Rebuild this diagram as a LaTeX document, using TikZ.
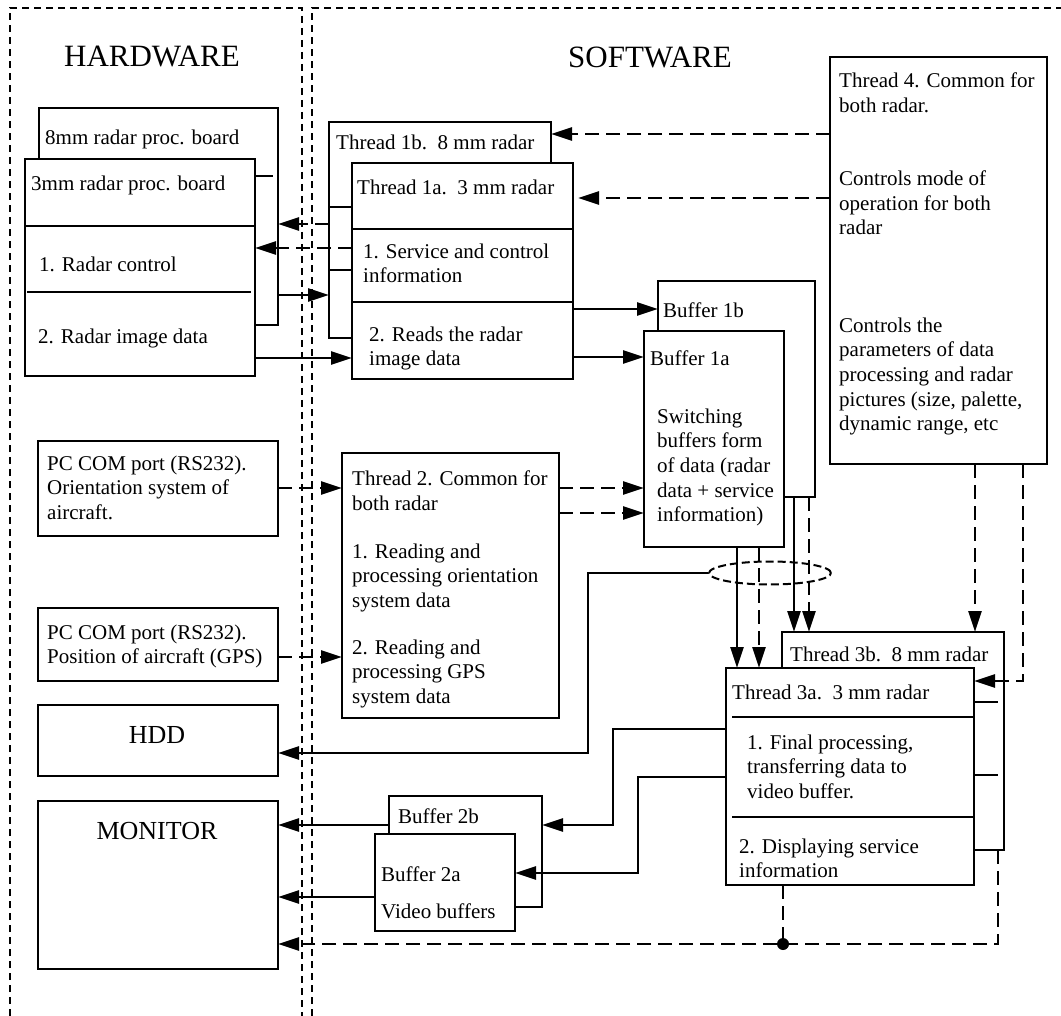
\documentclass[tikz,border=0pt]{standalone}
\usepackage{fontspec}
\setmainfont{Liberation Serif}
\usetikzlibrary{arrows.meta,shapes.geometric}
\newcommand\txtfont{\fontsize{21}{24.6}\selectfont}
\newcommand\headfont{\fontsize{31}{36}\selectfont}
\newcommand\devfont{\fontsize{26}{30}\selectfont}
% box from its top-left (x1,y1) to its bottom-right (x2,y2)
\newcommand\mkbox[5]{\node[bx, minimum width={#4-#2}, minimum height={#5-#3}] (#1) at (#2,#3) {};}
\begin{document}
\begin{tikzpicture}[x=1pt, y=-1pt,
  ln/.style={line width=2.6pt},
  arr/.style={ln, -{Triangle[length=21pt 0 0,width=13pt 0 0]}},
  dpat/.style={dash pattern=on 14pt off 7pt},
  darr/.style={arr, dpat},
  dln/.style={ln, dpat},
  frame/.style={line width=2.2pt, dash pattern=on 7pt off 5pt},
  bx/.style={draw, line width=2.6pt, fill=white, anchor=north west, inner sep=0pt, outer sep=0pt},
  tx/.style={anchor=north west, inner sep=0pt, align=left, font=\txtfont}]
\useasboundingbox (0,0) rectangle (1061,1016);

% hardware / software areas
\draw[frame] (10,1016) -- (10,8) -- (302,8) -- (302,1016);
\draw[frame] (312,1016) -- (312,8) -- (1061,8);
\node[font=\headfont] (hw) at (152,57) {HARDWARE};
\node[font=\headfont] (sw) at (650,57) {SOFTWARE};

% boxes (back boxes of each pair first)
\mkbox{brd8}{39}{108}{278}{325}
\mkbox{brd3}{25}{159}{255}{376}
\mkbox{t1b}{329}{122}{551}{338}
\mkbox{t1a}{352}{163}{573}{379}
\mkbox{b1b}{658}{281}{815}{497}
\mkbox{b1a}{644}{331}{784}{547}
\mkbox{t4}{830}{57}{1047}{464}
\mkbox{ori}{38}{441}{278}{536}
\mkbox{t2}{342}{453}{559}{718}
\mkbox{gps}{38}{608}{278}{681}
\mkbox{hdd}{38}{705}{278}{776}
\mkbox{mon}{38}{801}{278}{969}
\mkbox{b2b}{389}{796}{542}{907}
\mkbox{b2a}{375}{834}{515}{931}
\mkbox{t3b}{782}{632}{1004}{850}
\mkbox{t3a}{726}{668}{974}{885}

% section dividers and stubs of the stacked boxes
\draw[ln] (brd3.west |- 0,226) -- (brd3.east |- 0,226);
\draw[ln] (27,292) -- (251,292);
\draw[ln] (brd3.east |- 0,176) -- (273,176);
\draw[ln] (t1a.west |- 0,229) -- (t1a.east |- 0,229);
\draw[ln] (t1a.west |- 0,302) -- (t1a.east |- 0,302);
\draw[ln] (t1b.west |- 0,207) -- (t1a.west |- 0,207);
\draw[ln] (t1b.west |- 0,270) -- (t1a.west |- 0,270);
\draw[ln] (732,717) -- (t3a.east |- 0,717);
\draw[ln] (732,817) -- (t3a.east |- 0,817);
\draw[ln] (t3a.east |- 0,702) -- (998,702);
\draw[ln] (t3a.east |- 0,775) -- (998,775);

% texts
\node[tx] (tb8) at (45,129.5) {8mm radar proc. board};
\node[tx] (tb3) at (31,175.5) {3mm radar proc. board};
\node[tx] (tb3a) at (39,256.5) {1. Radar control};
\node[tx] (tb3b) at (38,328.5) {2. Radar image data};
\node[tx] (tt1b) at (336,134.5) {Thread 1b.\ \ 8 mm radar};
\node[tx] (tt1a) at (357,179.5) {Thread 1a.\ \ 3 mm radar};
\node[tx] (tt1a1) at (363,243.5) {1. Service and control\\information};
\node[tx] (tt1a2) at (369,326.5) {2. Reads the radar\\image data};
\node[tx] (tbb1b) at (663,302.5) {Buffer 1b};
\node[tx] (tbb1a) at (650,350.5) {Buffer 1a};
\node[tx] (tbsw) at (657,408.5) {Switching\\buffers form\\of data (radar\\data + service\\information)};
\node[tx] (tt4) at (839,72.5) {Thread 4. Common for\\both radar.};
\node[tx] (tt4a) at (839,170.5) {Controls mode of\\operation for both\\radar};
\node[tx] (tt4b) at (839,317.5) {Controls the\\parameters of data\\processing and radar\\pictures (size, palette,\\dynamic range, etc};
\node[tx] (tori) at (47,455.5) {PC COM port (RS232).\\Orientation system of\\aircraft.};
\node[tx] (tt2) at (352,470.5) {Thread 2. Common for\\both radar};
\node[tx] (tt2a) at (352,543.5) {1. Reading and\\processing orientation\\system data};
\node[tx] (tt2b) at (352,639.5) {2. Reading and\\processing GPS\\system data};
\node[tx] (tgps) at (47,624.5) {PC COM port (RS232).\\Position of aircraft (GPS)};
\node[font=\devfont] (thdd) at (157,735) {HDD};
\node[font=\devfont] (tmon) at (157,831) {MONITOR};
\node[tx] (tbb2b) at (398,808.5) {Buffer 2b};
\node[tx] (tbb2a) at (381,866.5) {Buffer 2a};
\node[tx] (tvid) at (381,903.5) {Video buffers};
\node[tx] (tt3b) at (790,646.5) {Thread 3b.\ \ 8 mm radar};
\node[tx] (tt3a) at (732,684.5) {Thread 3a.\ \ 3 mm radar};
\node[tx] (tt3a1) at (747,734.5) {1. Final processing,\\transferring data to\\video buffer.};
\node[tx] (tt3a2) at (739,838.5) {2. Displaying service\\information};

% radar boards <-> thread 1
\draw[darr] (t1b.west |- 0,224) -- (brd8.east |- 0,224);
\draw[darr] (t1a.west |- 0,248) -- (brd3.east |- 0,248);
\draw[arr] (brd8.east |- 0,295) -- (t1b.west |- 0,295);
\draw[arr] (brd3.east |- 0,358) -- (t1a.west |- 0,358);

% thread 1 -> buffers 1
\draw[arr] (t1a.east |- 0,309) -- (b1b.west |- 0,309);
\draw[arr] (t1a.east |- 0,357) -- (b1a.west |- 0,357);

% thread 4 controls
\draw[darr] (t4.west |- 0,134) -- (t1b.east |- 0,134);
\draw[darr, shorten >=5pt] (t4.west |- 0,198) -- (t1a.east |- 0,198);
\draw[darr] (t4.south -| 975,0) -- (t3b.north -| 975,0);
\draw[darr] (t4.south -| 1023,0) |- (t3a.east |- 0,681);

% COM ports -> thread 2 -> buffer 1a
\draw[darr] (ori.east |- 0,488) -- (t2.west |- 0,488);
\draw[darr] (gps.east |- 0,657) -- (t2.west |- 0,657);
\draw[darr] (t2.east |- 0,488) -- (b1a.west |- 0,488);
\draw[darr] (t2.east |- 0,513) -- (b1a.west |- 0,513);

% buffers 1 -> thread 3, grouped to the HDD
\node[ellipse, draw, line width=2pt, dash pattern=on 8pt off 4pt, minimum width=122pt, minimum height=23pt, inner sep=0pt] (grp) at (770,573) {};
\draw[arr] (b1a.south -| 737,0) -- (t3a.north -| 737,0);
\draw[darr] (b1a.south -| 759,0) -- (t3a.north -| 759,0);
\draw[arr] (b1b.south -| 794,0) -- (t3b.north -| 794,0);
\draw[darr] (b1b.south -| 809,0) -- (t3b.north -| 809,0);
\draw[arr] (grp.west) -- (588,573) |- (hdd.east |- 0,753);

% thread 3 -> video buffers
\draw[arr] (t3a.west |- 0,729) -| (613,825) -- (b2b.east |- 0,825);
\draw[arr] (t3a.west |- 0,777) -| (638,873) -- (b2a.east |- 0,873);

% video buffers and service information -> monitor
\draw[arr] (b2b.west |- 0,825) -- (mon.east |- 0,825);
\draw[arr] (b2a.west |- 0,897) -- (mon.east |- 0,897);
\node[circle, fill, inner sep=0pt, minimum size=12pt] (jn) at (783,944) {};
\draw[dln] (t3a.south -| 783,0) -- (jn.center);
\draw[darr] (t3b.south -| 998,0) |- (mon.east |- 0,944);
\end{tikzpicture}
\end{document}
